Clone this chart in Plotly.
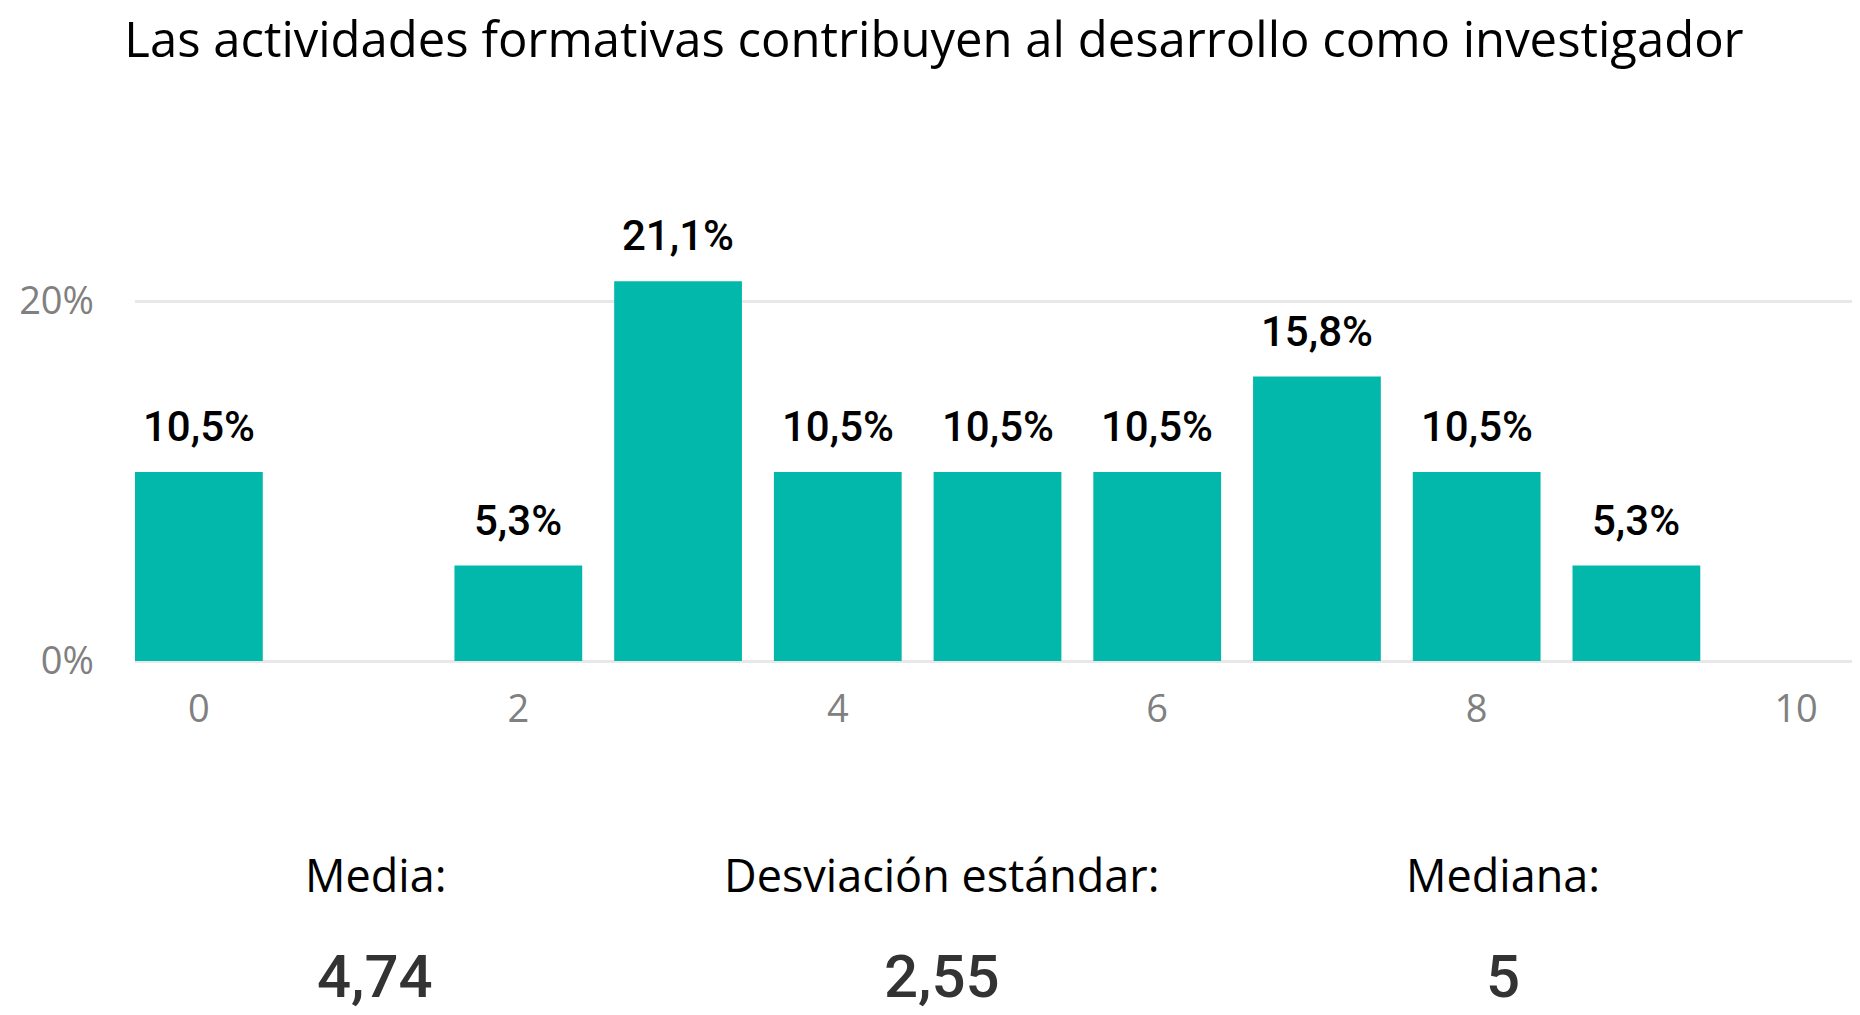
import plotly.graph_objects as go

title_text = "Las actividades formativas contribuyen al desarrollo como investigador"
categories = [0, 1, 2, 3, 4, 5, 6, 7, 8, 9, 10]
percentages = [10.5, 0, 5.3, 21.1, 10.5, 10.5, 10.5, 15.8, 10.5, 5.3, 0]
x_tick_vals = [0, 2, 4, 6, 8, 10]
y_tick_vals = [0, 20]
y_tick_text = ["0%", "20%"]
stat_labels = ["Media:", "Desviación estándar:", "Mediana:"]
stat_values = ["4,74", "2,55", "5"]

BAR_COLOR = "#02b8ab"
OFF = 8  # page body margin
W, H = 1860 - OFF, 1015 - OFF
L, R, T, B = 135 - OFF, 0, 121 - OFF, H - (661 - OFF)

fig = go.Figure()
fig.add_trace(go.Bar(
    x=categories, y=percentages, width=0.8,
    marker=dict(color=BAR_COLOR, line=dict(width=0)),
    hoverinfo="skip", showlegend=False,
))

# value labels above bars
for c, v in zip(categories, percentages):
    if v > 0:
        fig.add_annotation(
            x=c, y=v, xref="x", yref="y", yanchor="bottom", yshift=19,
            text=(f"{v:.1f}%").replace(".", ","), showarrow=False,
            font=dict(family="Roboto", size=42, color="#000000", weight=500),
        )

# statistic blocks
stat_px = [375, 942, 1503]
plot_w = W - L - R
plot_h = H - T - B
zero_y = H - B
for px, lab, val in zip(stat_px, stat_labels, stat_values):
    xp = (px - OFF - L) / plot_w
    fig.add_annotation(
        x=xp, y=(zero_y - (874 - OFF)) / plot_h, xref="paper", yref="paper",
        text=lab, showarrow=False, xanchor="center", yanchor="middle",
        font=dict(family="Open Sans", size=45, color="#000000"),
    )
    fig.add_annotation(
        x=xp, y=(zero_y - (977 - OFF)) / plot_h, xref="paper", yref="paper",
        text=val, showarrow=False, xanchor="center", yanchor="middle",
        font=dict(family="Roboto", size=60, color="#333333", weight=500),
    )

fig.update_layout(
    width=W, height=H,
    margin=dict(l=L, r=R, t=T, b=B, pad=0),
    paper_bgcolor="white", plot_bgcolor="white",
    bargap=0.2,
    title=dict(
        text=title_text, x=0.5, xanchor="center", xref="container",
        y=1 - (40 - OFF) / H, yanchor="middle", yref="container",
        font=dict(family="Open Sans", size=49, color="#000000"),
    ),
    xaxis=dict(
        range=[-0.4, 10.4], tickmode="array", tickvals=x_tick_vals,
        showgrid=False, zeroline=False, showline=False,
        ticks="", ticklabelstandoff=22,
        tickfont=dict(family="Open Sans", size=38, color="#808080"),
        fixedrange=True,
    ),
    yaxis=dict(
        range=[0, 30], tickmode="array", tickvals=y_tick_vals, ticktext=y_tick_text,
        showgrid=True, gridcolor="#e8e8e8", gridwidth=3,
        zeroline=True, zerolinecolor="#e8e8e8", zerolinewidth=3,
        showline=False, ticks="", ticklabelstandoff=40,
        tickfont=dict(family="Open Sans", size=38, color="#808080"),
        fixedrange=True,
    ),
)

fig.write_html("out.html")
